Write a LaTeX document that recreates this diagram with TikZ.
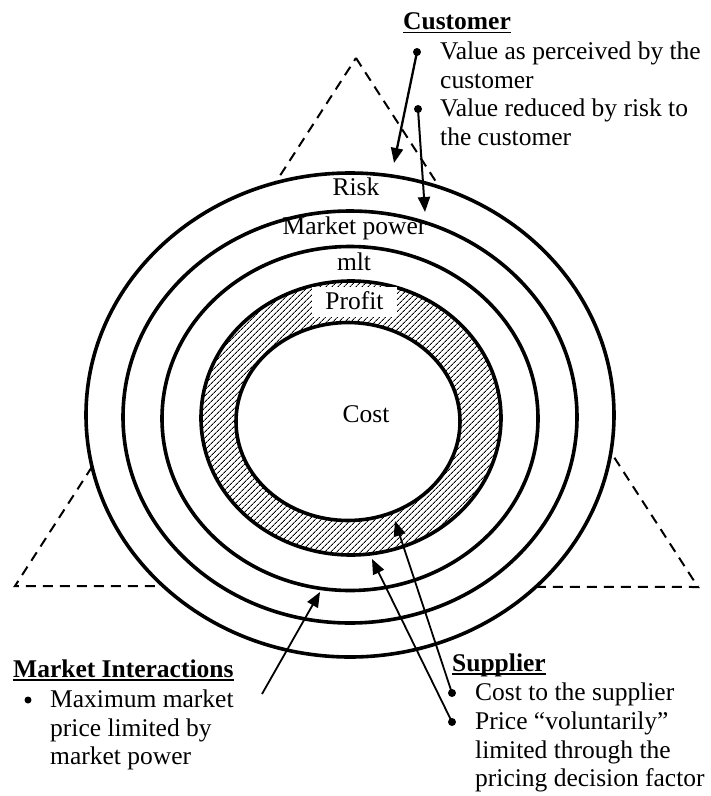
\documentclass[tikz,border=0pt]{standalone}
\usepackage{fontspec}
\setmainfont{Liberation Serif}
\usetikzlibrary{arrows.meta,patterns.meta}
\begin{document}
\begin{tikzpicture}[x=1pt,y=-1pt,
  txt/.style={anchor=base west,inner sep=0pt,font=\fontsize{25.5}{28.7}\selectfont},
  hdr/.style={anchor=base west,inner sep=0pt,font=\fontsize{25.5}{28.7}\selectfont\bfseries},
  lbl/.style={anchor=base,inner sep=0pt,font=\fontsize{25.5}{28.7}\selectfont},
  ring/.style={line width=3.6pt,fill=white},
  tri/.style={line width=2pt,dash pattern=on 10pt off 7pt},
  dot/.style={circle,fill,inner sep=0pt,minimum size=8pt},
  arr/.style={line width=2pt,-{Triangle[length=15pt,width=12pt]}},
  uline/.style={line width=1.4pt}]

\useasboundingbox (0,0) rectangle (711,796);
\fill[white] (0,0) rectangle (711,796);

% dashed triangle
\draw[tri] (356,58) -- (698,587) -- (15,586) -- cycle;

% rings
\draw[ring] (350,415) ellipse [x radius=264pt, y radius=242pt];
\draw[ring] (350,417) ellipse [x radius=227pt, y radius=206pt];
\draw[ring] (350,418.5) ellipse [x radius=188pt, y radius=172pt];
\draw[line width=3.6pt, pattern={Lines[angle=45,distance=4pt,line width=0.9pt]}] (351,418) ellipse [x radius=150pt, y radius=137pt];
\draw[ring] (348,421.5) ellipse [x radius=112pt, y radius=99pt];

% ring labels
\node[lbl] (risk) at (356,195) {Risk};
\node[lbl] (mpow) at (354.5,234) {Market power};
\node[lbl] (mlt) at (354,270) {mlt};
\node[lbl,fill=white,text height=19pt,text depth=4pt,inner ysep=3.5pt,minimum width=85pt] (profit) at (354.5,309) {Profit};
\node[lbl] (cost) at (366,422) {Cost};

% Customer block
\node[hdr] (cust) at (403,29.5) {Customer};
\draw[uline] ([yshift=-3pt]cust.base west) -- ([yshift=-3pt]cust.base east);
\node[dot] (d1) at (417,52) {};
\node[txt] (c1) at (440,59.5) {Value as perceived by the};
\node[txt] (c2) at (440,88) {customer};
\node[dot] (d2) at (418,109) {};
\node[txt] (c3) at (440,116.5) {Value reduced by risk to};
\node[txt] (c4) at (440,145) {the customer};

% Market Interactions block
\node[hdr] (mi) at (13,677) {Market Interactions};
\draw[uline] ([yshift=-3pt]mi.base west) -- ([yshift=-3pt]mi.base east);
\node[dot,minimum size=7pt] (d3) at (28,700) {};
\node[txt] (m1) at (50,707.5) {Maximum market};
\node[txt] (m2) at (50,736) {price limited by};
\node[txt] (m3) at (50,764.5) {market power};

% Supplier block
\node[hdr] (sup) at (452,671) {Supplier};
\draw[uline] ([yshift=-3pt]sup.base west) -- ([yshift=-3pt]sup.base east);
\node[dot] (d4) at (452,693) {};
\node[txt] (s1) at (475,700.5) {Cost to the supplier};
\node[dot] (d5) at (452,722) {};
\node[txt] (s2) at (475,729.5) {Price “voluntarily”};
\node[txt] (s3) at (475,758) {limited through the};
\node[txt] (s4) at (475,786.5) {pricing decision factor};

% arrows
\coordinate (t1) at (394,163);
\coordinate (t2) at (425,212);
\coordinate (m0) at (262,694);
\coordinate (t3) at (320,592);
\coordinate (t4) at (395,521);
\coordinate (t5) at (372,559);
\draw[arr,line width=2.3pt] (d1.center) -- (t1);
\draw[arr] (d2.center) -- (t2);
\draw[arr,line width=1.8pt] (m0) -- (t3);
\draw[arr,line width=1.8pt] (d4.center) -- (t4);
\draw[arr,line width=1.8pt] (d5.center) -- (t5);
\end{tikzpicture}
\end{document}
